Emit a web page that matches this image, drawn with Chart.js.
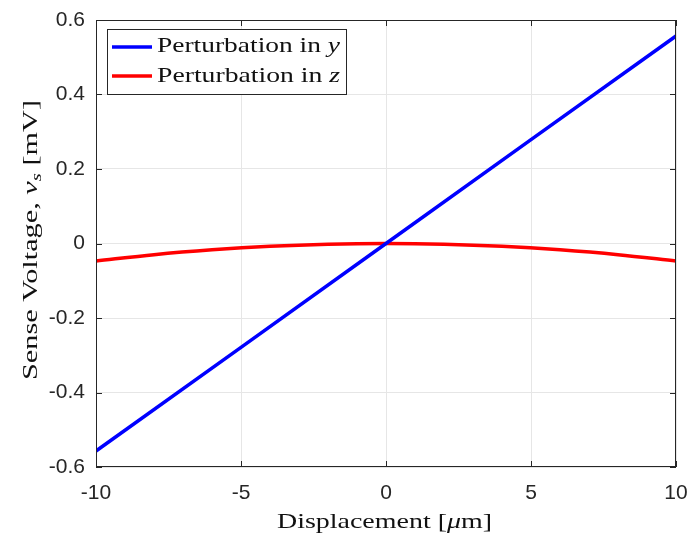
<!DOCTYPE html>
<html>
<head>
<meta charset="utf-8">
<script src="https://cdn.jsdelivr.net/npm/chart.js@4/dist/chart.umd.min.js"></script>
<style>
  html, body { margin: 0; padding: 0; background: #fff; }
  #wrap { width: 690px; height: 535px; }
</style>
</head>
<body>
<div id="wrap"><canvas id="sense"></canvas></div>
<script>
// displacement samples [um] and sense voltage [mV]
const dispY = [-10, -5, 0, 5, 10];
const voltY = [-0.557, -0.279, 0, 0.279, 0.557];

const dispZ = [-10, -8, -6, -4, -2, 0, 2, 4, 6, 8, 10];
const voltZ = [-0.047, -0.030, -0.017, -0.0075, -0.0019, 0, -0.0019, -0.0075, -0.017, -0.030, -0.047];

const xTickValues = [-10, -5, 0, 5, 10];
const xTickLabels = ['-10', '-5', '0', '5', '10'];
const yTickValues = [-0.6, -0.4, -0.2, 0, 0.2, 0.4, 0.6];
const yTickLabels = ['-0.6', '-0.4', '-0.2', '0', '0.2', '0.4', '0.6'];

const serif = '"Liberation Serif", "DejaVu Serif", serif';
const sans = '"Liberation Sans", Arial, sans-serif';
const axisCol = '#262626';

const toPts = (xs, ys) => xs.map((x, i) => ({ x: x, y: ys[i] }));

// draw a run of mixed-style text pieces starting at (x, y), stretched to width w
function drawRun(ctx, parts, x, y, w) {
  let total = 0;
  parts.forEach(p => { ctx.font = p.f; total += ctx.measureText(p.t).width; });
  const sx = w / total;
  ctx.save();
  ctx.translate(x, y);
  ctx.scale(sx, 1);
  let cx = 0;
  parts.forEach(p => {
    ctx.font = p.f;
    ctx.textAlign = 'left';
    ctx.textBaseline = 'alphabetic';
    ctx.fillText(p.t, cx, p.dy || 0);
    cx += ctx.measureText(p.t).width;
  });
  ctx.restore();
}

// box, inward ticks, axis titles and legend
const decorations = {
  id: 'decorations',
  afterDraw(chart) {
    const ctx = chart.ctx;
    const a = chart.chartArea;
    const xs = chart.scales.x, ys = chart.scales.y;
    ctx.save();

    ctx.strokeStyle = axisCol;
    ctx.lineWidth = 1;
    ctx.strokeRect(Math.round(a.left) + 0.5, Math.round(a.top) + 0.5,
      Math.round(a.right - a.left) - 1, Math.round(a.bottom - a.top) - 1);
    const tl = 6;
    ctx.beginPath();
    xTickValues.forEach(v => {
      const px = Math.round(xs.getPixelForValue(v)) + 0.5;
      ctx.moveTo(px, a.bottom); ctx.lineTo(px, a.bottom - tl);
      ctx.moveTo(px, a.top); ctx.lineTo(px, a.top + tl);
    });
    yTickValues.forEach(v => {
      const py = Math.round(ys.getPixelForValue(v)) + 0.5;
      ctx.moveTo(a.left, py); ctx.lineTo(a.left + tl, py);
      ctx.moveTo(a.right, py); ctx.lineTo(a.right - tl, py);
    });
    ctx.stroke();

    ctx.fillStyle = '#111';
    const fs = 22;
    const rm = fs + 'px ' + serif, it = 'italic ' + fs + 'px ' + serif;

    // x title
    drawRun(ctx, [
      { t: 'Displacement [', f: rm },
      { t: 'μ', f: it },
      { t: 'm]', f: rm }
    ], 277, 528, 215);

    // y title, rotated
    ctx.save();
    ctx.translate(37, 380);
    ctx.rotate(-Math.PI / 2);
    drawRun(ctx, [
      { t: 'Sense Voltage, ', f: rm },
      { t: 'v', f: it },
      { t: 's', f: 'italic 15px ' + serif, dy: 4 },
      { t: ' [mV]', f: rm }
    ], 0, 0, 280);
    ctx.restore();

    // legend
    ctx.fillStyle = '#fff';
    ctx.fillRect(107.5, 29.5, 239, 65);
    ctx.strokeStyle = axisCol;
    ctx.lineWidth = 1;
    ctx.strokeRect(107.5, 29.5, 239, 65);
    const entries = [
      { c: '#0000ff', v: 'y', ly: 47, by: 52 },
      { c: '#ff0000', v: 'z', ly: 76, by: 82 }
    ];
    entries.forEach(e => {
      ctx.strokeStyle = e.c; ctx.lineWidth = 3.5;
      ctx.beginPath(); ctx.moveTo(112, e.ly); ctx.lineTo(152, e.ly); ctx.stroke();
      ctx.fillStyle = '#111';
      drawRun(ctx, [
        { t: 'Perturbation in ', f: rm },
        { t: e.v, f: it }
      ], 157, e.by, 183);
    });
    ctx.restore();
  }
};

new Chart(document.getElementById('sense'), {
  type: 'line',
  data: {
    datasets: [
      {
        label: 'Perturbation in y',
        data: toPts(dispY, voltY),
        borderColor: '#0000ff',
        borderWidth: 3.5,
        pointRadius: 0
      },
      {
        label: 'Perturbation in z',
        data: toPts(dispZ, voltZ),
        borderColor: '#ff0000',
        borderWidth: 3.5,
        pointRadius: 0,
        cubicInterpolationMode: 'monotone'
      }
    ]
  },
  options: {
    responsive: true,
    maintainAspectRatio: false,
    animation: false,
    layout: { padding: { top: 20, right: 14, left: 0, bottom: 0 } },
    plugins: { legend: { display: false }, tooltip: { enabled: false } },
    scales: {
      x: {
        type: 'linear',
        min: -10, max: 10,
        afterBuildTicks: s => { s.ticks = xTickValues.map(v => ({ value: v })); },
        afterFit: s => { s.height = 68; s.paddingLeft = 0; s.paddingRight = 0; },
        grid: { color: '#e6e6e6', drawTicks: false },
        border: { display: false },
        ticks: {
          padding: 14,
          color: axisCol,
          font: { family: sans, size: 21 },
          callback: v => xTickLabels[xTickValues.indexOf(v)]
        }
      },
      y: {
        type: 'linear',
        min: -0.6, max: 0.6,
        afterBuildTicks: s => { s.ticks = yTickValues.map(v => ({ value: v })); },
        afterFit: s => { s.width = 96; s.paddingTop = 0; s.paddingBottom = 0; },
        grid: { color: '#e6e6e6', drawTicks: false },
        border: { display: false },
        ticks: {
          padding: 11,
          color: axisCol,
          font: { family: sans, size: 21 },
          callback: v => yTickLabels[yTickValues.findIndex(t => Math.abs(t - v) < 1e-9)]
        }
      }
    }
  },
  plugins: [decorations]
});
</script>
</body>
</html>
